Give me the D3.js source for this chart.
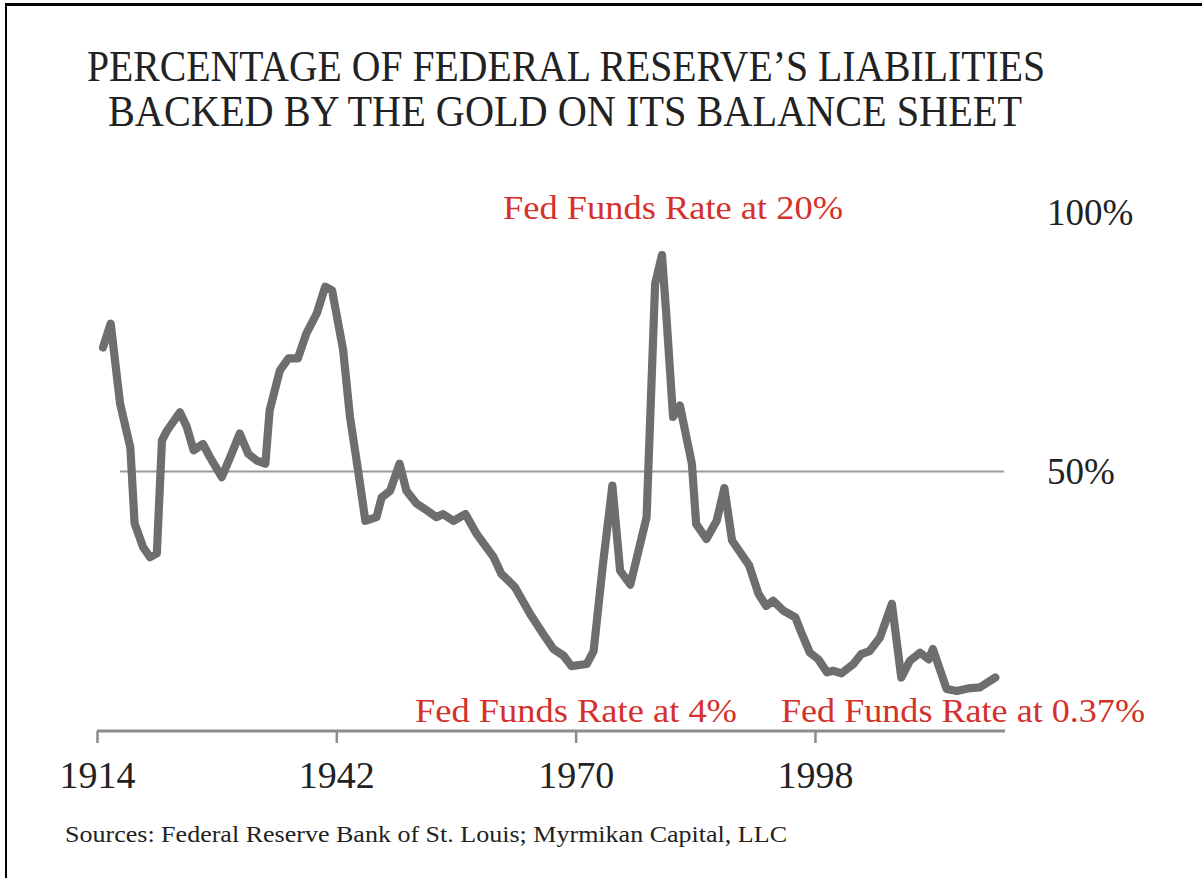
<!DOCTYPE html>
<html>
<head>
<meta charset="utf-8">
<script src="https://cdn.jsdelivr.net/npm/d3@7"></script>
<style>
  html, body { margin: 0; padding: 0; background: #fff; }
  svg { display: block; }
  text { font-family: "Liberation Serif", "Times New Roman", serif; }
</style>
</head>
<body>
<svg id="chart" width="1202" height="878"></svg>
<script>
// ---- data ----
const years = [1914.7, 1915.6, 1916.7, 1917.9, 1918.4, 1919.4, 1920.2, 1921.0, 1921.6, 1922.2,
  1923.7, 1924.5, 1925.3, 1926.4, 1927.2, 1928.6, 1929.6, 1930.7, 1931.7, 1932.7,
  1933.7, 1934.2, 1935.4, 1936.4, 1937.5, 1938.5, 1939.7, 1940.7, 1941.5, 1942.8,
  1943.6, 1944.6, 1945.4, 1946.7, 1947.3, 1948.3, 1949.4, 1950.2, 1951.4, 1952.6,
  1953.7, 1954.5, 1955.7, 1957.1, 1958.4, 1960.4, 1961.3, 1962.9, 1964.7, 1966.2,
  1967.4, 1968.6, 1969.5, 1971.3, 1972.1, 1973.2, 1974.3, 1975.2, 1976.4, 1978.3,
  1979.3, 1980.1, 1980.6, 1981.4, 1982.2, 1983.6, 1984.1, 1985.3, 1986.5, 1987.4,
  1988.3, 1990.3, 1991.4, 1992.3, 1993.1, 1994.3, 1995.7, 1996.4, 1997.4, 1998.4,
  1999.4, 2000.1, 2001.1, 2002.5, 2003.4, 2004.4, 2005.6, 2007.0, 2008.1, 2009.1,
  2010.3, 2011.3, 2011.8, 2013.4, 2014.6, 2015.9, 2017.3, 2019.1];
const goldBacking = [73.9, 78.5, 63.1, 54.6, 40.0, 35.4, 33.5, 34.2, 56.0, 57.9,
  61.4, 58.6, 54.1, 55.3, 52.8, 48.9, 52.8, 57.3, 53.4, 52.1,
  51.5, 61.8, 69.5, 71.8, 71.8, 76.6, 80.4, 85.6, 84.9, 73.4,
  60.5, 49.6, 40.5, 41.2, 45.0, 46.3, 51.5, 46.3, 43.8, 42.5,
  41.2, 41.8, 40.5, 41.8, 38.0, 33.5, 30.3, 27.7, 22.5, 18.7,
  15.8, 14.5, 12.5, 12.9, 15.4, 32.2, 47.3, 30.9, 28.2, 41.2,
  86.2, 91.7, 80.4, 60.5, 62.7, 51.5, 39.9, 37.0, 40.5, 46.8,
  36.7, 31.9, 26.4, 24.1, 25.1, 23.2, 21.9, 19.0, 15.1, 13.8,
  11.3, 11.6, 11.1, 12.9, 14.8, 15.4, 18.0, 24.5, 10.3, 13.5,
  15.1, 13.8, 15.8, 8.1, 7.7, 8.2, 8.4, 10.3];
const xTicks = [1914, 1942, 1970, 1998];
const yLabels = [100, 50];
const titleLines = ["PERCENTAGE OF FEDERAL RESERVE\u2019S LIABILITIES", "BACKED BY THE GOLD ON ITS BALANCE SHEET"];
const annotations = ["Fed Funds Rate at 20%", "Fed Funds Rate at 4%", "Fed Funds Rate at 0.37%"];
const sourceText = "Sources: Federal Reserve Bank of St. Louis; Myrmikan Capital, LLC";

// ---- layout ----
const svg = d3.select("#chart");
const x = d3.scaleLinear().domain([1914, 2020]).range([97, 1003]);
const y = d3.scaleLinear().domain([0, 100]).range([731, 212]);

// frame (top and left)
svg.append("rect").attr("x", 5).attr("y", 3).attr("width", 1197).attr("height", 3).attr("fill", "#000");
svg.append("rect").attr("x", 5).attr("y", 3).attr("width", 2).attr("height", 875).attr("fill", "#000");

// title
const titleG = svg.append("g").attr("fill", "#222");
const titlePos = [{x: 87, y: 81, w: 958}, {x: 108, y: 126, w: 914}];
titleLines.forEach((t, i) => {
  titleG.append("text")
    .attr("x", titlePos[i].x).attr("y", titlePos[i].y)
    .attr("font-size", 44)
    .attr("textLength", titlePos[i].w)
    .attr("lengthAdjust", "spacingAndGlyphs")
    .text(t);
});

// 50% reference line
svg.append("line")
  .attr("x1", 120).attr("x2", 1004)
  .attr("y1", y(50)).attr("y2", y(50))
  .attr("stroke", "#9a9a9a").attr("stroke-width", 2.2);

// x axis
const axis = d3.axisBottom(x).tickValues(xTicks).tickFormat(d3.format("d"))
  .tickSize(12).tickSizeOuter(0).tickPadding(18);
const ax = svg.append("g").attr("transform", `translate(0,${y(0)})`).call(axis);
ax.select(".domain").attr("stroke", "#8c8c8c").attr("stroke-width", 3)
  .attr("d", `M${x(1914)},0H${x(2020) + 2}`);
ax.selectAll(".tick line").attr("stroke", "#8c8c8c").attr("stroke-width", 2.5);
ax.selectAll(".tick text").attr("fill", "#222").attr("font-size", 38)
  .attr("font-family", "Liberation Serif, serif");

// y labels
svg.append("g").selectAll("text").data(yLabels).join("text")
  .attr("x", 1047).attr("y", d => y(d)).attr("dy", "0.35em")
  .attr("font-size", 37).attr("fill", "#222")
  .text(d => d + "%");

// data line
const line = d3.line().x((d, i) => x(years[i])).y(d => y(d)).curve(d3.curveLinear);
svg.append("path")
  .datum(goldBacking)
  .attr("d", line)
  .attr("fill", "none")
  .attr("stroke", "#6c6e6f")
  .attr("stroke-width", 8.2)
  .attr("stroke-linejoin", "round")
  .attr("stroke-linecap", "round");

// red annotations
const annPos = [{x: 503, y: 219, w: 340}, {x: 415, y: 722, w: 322}, {x: 781, y: 722, w: 364}];
svg.append("g").selectAll("text").data(annotations).join("text")
  .attr("x", (d, i) => annPos[i].x).attr("y", (d, i) => annPos[i].y)
  .attr("font-size", 33).attr("fill", "#d4312c")
  .attr("textLength", (d, i) => annPos[i].w)
  .attr("lengthAdjust", "spacingAndGlyphs")
  .text(d => d);

// sources
svg.append("text")
  .attr("x", 65).attr("y", 842)
  .attr("font-size", 24).attr("fill", "#222")
  .attr("textLength", 722).attr("lengthAdjust", "spacingAndGlyphs")
  .text(sourceText);
</script>
</body>
</html>
